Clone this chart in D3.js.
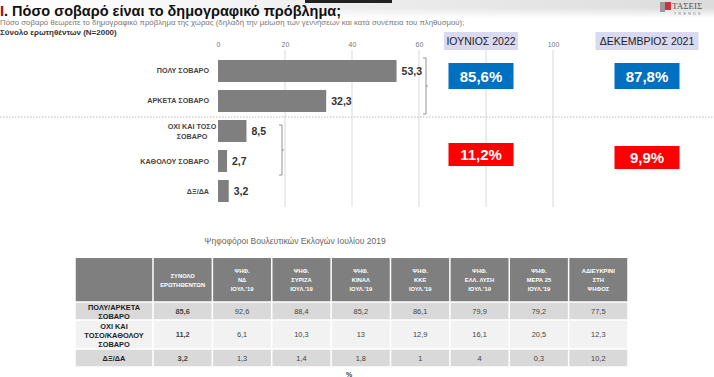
<!DOCTYPE html>
<html>
<head>
<meta charset="utf-8">
<title>Πόσο σοβαρό είναι το δημογραφικό πρόβλημα</title>
<script src="https://d3js.org/d3.v7.min.js"></script>
<style>
  body { margin: 0; background: #fff; }
  svg { display: block; font-family: "Liberation Sans", Arial, sans-serif; }
</style>
</head>
<body>
<script>
// chart data
var categories = ["ΠΟΛΥ ΣΟΒΑΡΟ", "ΑΡΚΕΤΑ ΣΟΒΑΡΟ", "ΟΧΙ ΚΑΙ ΤΟΣΟ ΣΟΒΑΡΟ", "ΚΑΘΟΛΟΥ ΣΟΒΑΡΟ", "ΔΞ/ΔΑ"];
var values = [53.3, 32.3, 8.5, 2.7, 3.2];
var tickValues = [0, 20, 40, 60, 100];   // 80 sits under the period box
var gridValues = [20, 40, 60, 80, 100];

// summary boxes
var periods = ["ΙΟΥΝΙΟΣ 2022", "ΔΕΚΕΜΒΡΙΟΣ 2021"];
var seriousTotals = [85.6, 87.8];
var notSeriousTotals = [11.2, 9.9];

// table
var tableHeaders = [
  ["ΣΥΝΟΛΟ", "ΕΡΩΤΗΘΕΝΤΩΝ"],
  ["ΨΗΦ.", "ΝΔ", "ΙΟΥΛ.'19"],
  ["ΨΗΦ.", "ΣΥΡΙΖΑ", "ΙΟΥΛ.'19"],
  ["ΨΗΦ.", "ΚΙΝΑΛ", "ΙΟΥΛ.'19"],
  ["ΨΗΦ.", "ΚΚΕ", "ΙΟΥΛ.'19"],
  ["ΨΗΦ.", "ΕΛΛ. ΛΥΣΗ", "ΙΟΥΛ.'19"],
  ["ΨΗΦ.", "ΜΕΡΑ 25", "ΙΟΥΛ.'19"],
  ["ΑΔΙΕΥΚΡΙΝΙ", "ΣΤΗ", "ΨΗΦΟΣ"]
];
var tableRowLabels = [["ΠΟΛΥ/ΑΡΚΕΤΑ", "ΣΟΒΑΡΟ"], ["ΟΧΙ ΚΑΙ", "ΤΟΣΟ/ΚΑΘΟΛΟΥ", "ΣΟΒΑΡΟ"], ["ΔΞ/ΔΑ"]];
var rowSerious = [85.6, 92.6, 88.4, 85.2, 86.1, 79.9, 79.2, 77.5];
var rowNotSerious = [11.2, 6.1, 10.3, 13, 12.9, 16.1, 20.5, 12.3];
var rowDontKnow = [3.2, 1.3, 1.4, 1.8, 1, 4, 0.3, 10.2];

var comma = function(v) { return String(v).replace(".", ","); };

var W = 714, H = 377;
var svg = d3.select("body").append("svg").attr("width", W).attr("height", H);

// header gradient
var defs = svg.append("defs");
var grad = defs.append("linearGradient").attr("id", "hdr").attr("x1", 0).attr("x2", 1).attr("y1", 0).attr("y2", 0);
grad.append("stop").attr("offset", "0%").attr("stop-color", "#ffffff");
grad.append("stop").attr("offset", "100%").attr("stop-color", "#dcdcdc");
var grad2 = defs.append("linearGradient").attr("id", "hdrfade").attr("x1", 0).attr("x2", 0).attr("y1", 0).attr("y2", 1);
grad2.append("stop").attr("offset", "0%").attr("stop-color", "#fff").attr("stop-opacity", 0);
grad2.append("stop").attr("offset", "100%").attr("stop-color", "#fff").attr("stop-opacity", 1);
svg.append("rect").attr("x", 0).attr("y", 0).attr("width", W).attr("height", 18).attr("fill", "url(#hdr)");
svg.append("rect").attr("x", 0).attr("y", 8).attr("width", W).attr("height", 10).attr("fill", "url(#hdrfade)");
svg.append("rect").attr("x", 305).attr("y", 0).attr("width", 87).attr("height", 3).attr("fill", "#222");

// logo
svg.append("rect").attr("x", 660).attr("y", 2).attr("width", 5).attr("height", 10).attr("fill", "#9a9a9a");
svg.append("rect").attr("x", 665).attr("y", 2).attr("width", 6).attr("height", 8).attr("fill", "#d0303a");
svg.append("text").attr("x", 672).attr("y", 9).attr("font-family", "Liberation Serif, serif")
  .attr("font-size", 9).attr("fill", "#555").text("ΤΑΣΕΙΣ");
svg.append("text").attr("x", 674).attr("y", 14.5).attr("font-size", 3.5).attr("letter-spacing", 2.4)
  .attr("fill", "#777").text("TRENDS");

// titles
var t = svg.append("text").attr("x", 0).attr("y", 16).attr("font-size", 14.5).attr("font-weight", "bold");
t.append("tspan").attr("fill", "#c00000").text("I");
t.append("tspan").attr("fill", "#111").text(". Πόσο σοβαρό είναι το δημογραφικό πρόβλημα;");
svg.append("text").attr("x", 0).attr("y", 25).attr("font-size", 7.8).attr("fill", "#777")
  .text("Πόσο σοβαρό θεωρείτε το δημογραφικό πρόβλημα της χώρας (δηλαδή την μείωση των γεννήσεων και κατά συνέπεια του πληθυσμού);");
svg.append("text").attr("x", 0).attr("y", 35).attr("font-size", 8).attr("font-weight", "bold").attr("fill", "#333")
  .text("Σύνολο ερωτηθέντων (N=2000)");

// scales
var x = d3.scaleLinear().domain([0, 100]).range([218, 553]);
var y = d3.scaleBand().domain(categories).range([56, 206]).paddingInner(0.267).paddingOuter(0.133);

// gridlines
svg.append("g").selectAll("line").data(gridValues).join("line")
  .attr("x1", d => x(d)).attr("x2", d => x(d)).attr("y1", 50).attr("y2", 207)
  .attr("stroke", "#d9d9d9").attr("stroke-width", 1);

// axis on top
var axis = svg.append("g").attr("transform", "translate(0,50)")
  .call(d3.axisTop(x).tickValues(tickValues).tickSize(0).tickPadding(3));
axis.select(".domain").remove();
axis.selectAll("text").attr("font-size", 7).attr("fill", "#777").attr("font-family", "Liberation Sans, Arial, sans-serif");

// dotted separator
svg.append("line").attr("x1", 0).attr("x2", W).attr("y1", 117).attr("y2", 117)
  .attr("stroke", "#bbb").attr("stroke-dasharray", "1.5,1.5");

// bars
svg.append("g").selectAll("rect").data(values).join("rect")
  .attr("x", x(0)).attr("y", (d, i) => y(categories[i]))
  .attr("width", d => x(d) - x(0)).attr("height", y.bandwidth())
  .attr("fill", "#7f7f7f");

// value labels
svg.append("g").selectAll("text").data(values).join("text")
  .attr("x", d => x(d) + 5).attr("y", (d, i) => y(categories[i]) + y.bandwidth() / 2 + 4)
  .attr("font-size", 10.5).attr("font-weight", "bold").attr("fill", "#333")
  .text(d => comma(d));

// category labels
categories.forEach(function(c, i) {
  var cy = y(c) + y.bandwidth() / 2;
  if (c === "ΟΧΙ ΚΑΙ ΤΟΣΟ ΣΟΒΑΡΟ") {
    var tt = svg.append("text").attr("x", 192).attr("text-anchor", "middle")
      .attr("font-size", 7.2).attr("font-weight", "bold").attr("fill", "#444");
    tt.append("tspan").attr("x", 192).attr("y", cy - 2).text("ΟΧΙ ΚΑΙ ΤΟΣΟ");
    tt.append("tspan").attr("x", 192).attr("y", cy + 8).text("ΣΟΒΑΡΟ");
  } else {
    svg.append("text").attr("x", 209).attr("y", cy + 2.5).attr("text-anchor", "end")
      .attr("font-size", 7.2).attr("font-weight", "bold").attr("fill", "#444").text(c);
  }
});

// brackets
function bracket(bx, y0, y1) {
  var mid = (y0 + y1) / 2;
  var p = "M" + (bx - 3) + "," + y0 + "H" + bx + "V" + y1 + "H" + (bx - 3) +
          "M" + bx + "," + mid + "H" + (bx + 2);
  svg.append("path").attr("d", p).attr("fill", "none").attr("stroke", "#777").attr("stroke-width", 0.8);
}
bracket(426, y(categories[0]) - 2, y(categories[1]) + y.bandwidth() + 2);
bracket(282, y(categories[2]) + 5, y(categories[3]) + y.bandwidth() + 3);

// period headers and summary boxes
var boxX = [481, 647];
periods.forEach(function(p, i) {
  var w = i === 0 ? 74 : 103;
  svg.append("rect").attr("x", boxX[i] - w / 2).attr("y", 32).attr("width", w).attr("height", 18).attr("fill", "#d9d9f2");
  svg.append("text").attr("x", boxX[i]).attr("y", 45).attr("text-anchor", "middle")
    .attr("font-size", 10.5).attr("fill", "#222").text(p);
});
seriousTotals.forEach(function(v, i) {
  svg.append("rect").attr("x", boxX[i] - 32.5).attr("y", 63).attr("width", 65).attr("height", 26).attr("fill", "#0070c0");
  svg.append("text").attr("x", boxX[i]).attr("y", 82).attr("text-anchor", "middle")
    .attr("font-size", 15).attr("font-weight", "bold").attr("fill", "#fff").text(comma(v) + "%");
});
notSeriousTotals.forEach(function(v, i) {
  var by = i === 0 ? 143 : 146;
  svg.append("rect").attr("x", boxX[i] - 32.5).attr("y", by).attr("width", 65).attr("height", 23).attr("fill", "#ff0000");
  svg.append("text").attr("x", boxX[i]).attr("y", by + 17).attr("text-anchor", "middle")
    .attr("font-size", 15).attr("font-weight", "bold").attr("fill", "#fff").text(comma(v) + "%");
});

// table
svg.append("text").attr("x", 295).attr("y", 244).attr("text-anchor", "middle")
  .attr("font-size", 8.5).attr("fill", "#666").text("Ψηφοφόροι Βουλευτικών Εκλογών Ιουλίου 2019");

var colX = d3.scaleBand().domain(d3.range(tableHeaders.length)).range([153, 628]);
var rowsData = [rowSerious, rowNotSerious, rowDontKnow];
var rowTops = [302, 320, 349, 367];
var rowFill = ["#d9d9d9", "#f2f2f2", "#d9d9d9"];
var g = 0.75;

// header row
svg.append("rect").attr("x", 75 + g).attr("y", 258).attr("width", 78 - 2 * g).attr("height", 44 - g).attr("fill", "#7f7f7f");
tableHeaders.forEach(function(h, j) {
  svg.append("rect").attr("x", colX(j) + g).attr("y", 258).attr("width", colX.bandwidth() - 2 * g)
    .attr("height", 44 - g).attr("fill", "#7f7f7f");
  var cx = colX(j) + colX.bandwidth() / 2;
  var top = 280 - (h.length - 1) * 4.5 + 2;
  h.forEach(function(line, k) {
    svg.append("text").attr("x", cx).attr("y", top + k * 9).attr("text-anchor", "middle")
      .attr("font-size", 5.8).attr("font-weight", "bold").attr("fill", "#fff").text(line);
  });
});

// body rows
rowsData.forEach(function(row, r) {
  var y0 = rowTops[r], h = rowTops[r + 1] - rowTops[r];
  var cy = y0 + h / 2;
  svg.append("rect").attr("x", 75 + g).attr("y", y0 + g).attr("width", 78 - 2 * g).attr("height", h - 2 * g).attr("fill", rowFill[r]);
  var lines = tableRowLabels[r];
  lines.forEach(function(line, k) {
    svg.append("text").attr("x", 114).attr("y", cy + 3 + (k - (lines.length - 1) / 2) * 9)
      .attr("text-anchor", "middle").attr("font-size", 7.4).attr("font-weight", "bold").attr("fill", "#222").text(line);
  });
  row.forEach(function(v, j) {
    svg.append("rect").attr("x", colX(j) + g).attr("y", y0 + g).attr("width", colX.bandwidth() - 2 * g)
      .attr("height", h - 2 * g).attr("fill", rowFill[r]);
    svg.append("text").attr("x", colX(j) + colX.bandwidth() / 2).attr("y", cy + 2.7).attr("text-anchor", "middle")
      .attr("font-size", 7.4).attr("font-weight", j === 0 ? "bold" : "normal").attr("fill", "#444").text(comma(v));
  });
});
svg.append("text").attr("x", 349).attr("y", 377).attr("text-anchor", "middle")
  .attr("font-size", 7).attr("font-weight", "bold").attr("fill", "#444").text("%");
</script>
</body>
</html>
